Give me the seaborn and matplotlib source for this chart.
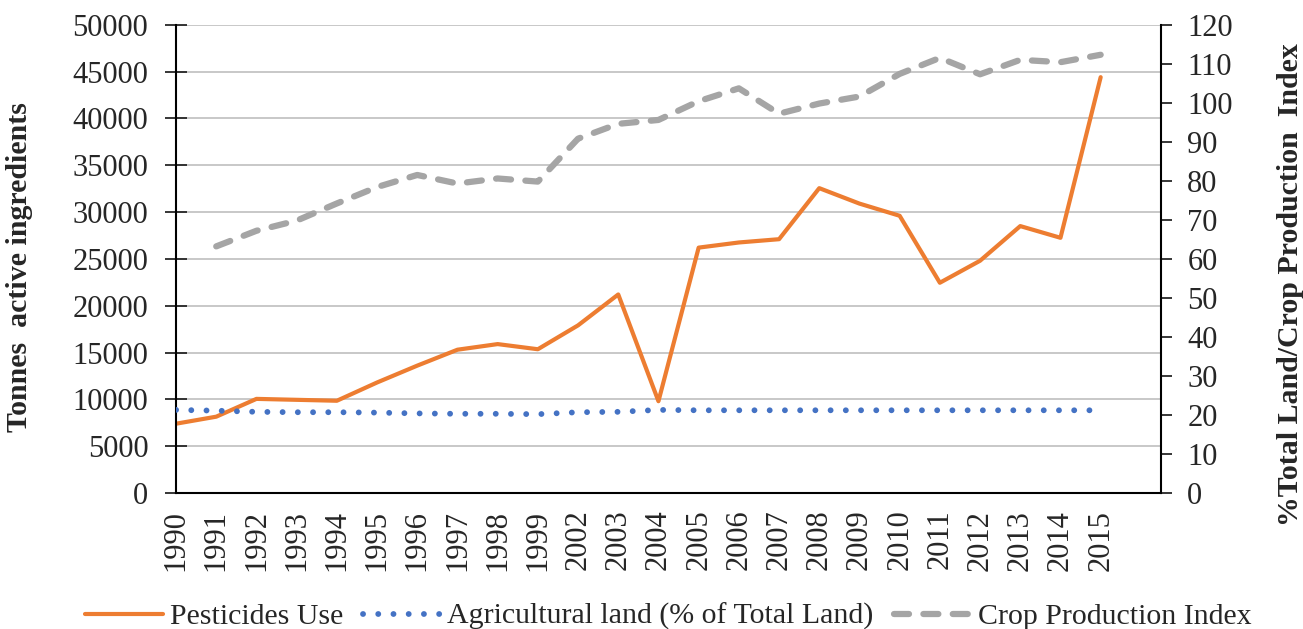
import numpy as np
import pandas as pd
import matplotlib
matplotlib.use("Agg")
import matplotlib.pyplot as plt
import seaborn as sns

years = ["1990", "1991", "1992", "1993", "1994", "1995", "1996", "1997", "1998", "1999",
         "2002", "2003", "2004", "2005", "2006", "2007", "2008", "2009", "2010", "2011",
         "2012", "2013", "2014", "2015"]
pesticides = [7400, 8150, 10050, 9950, 9850, 11800, 13600, 15300, 15900, 15350,
              17900, 21200, 9800, 26200, 26750, 27100, 32550, 30900, 29600, 22450,
              24800, 28500, 27250, 44400]
agri_land = [21.3, 21.1, 20.8, 20.7, 20.7, 20.6, 20.4, 20.3, 20.3, 20.2,
             20.7, 20.8, 21.3, 21.2, 21.2, 21.2, 21.2, 21.2, 21.2, 21.2,
             21.2, 21.2, 21.2, 21.2]
crop_index = [np.nan, 63.2, 67.2, 69.8, 74.2, 78.4, 81.5, 79.3, 80.6, 79.8,
              90.8, 94.6, 95.6, 100.4, 103.7, 97.2, 99.8, 101.6, 107.4, 111.5,
              107.3, 111.0, 110.4, 112.3]

df = pd.DataFrame({"Year": years, "Pesticides": pesticides,
                   "Agri": agri_land, "Crop": crop_index})
df["pos"] = np.arange(len(df))

sns.set_style("white")
plt.rcParams["font.family"] = ["Liberation Serif", "DejaVu Serif"]

orange = "#ED7D31"
blue = "#4472C4"
gray = "#A5A5A5"

fig = plt.figure(figsize=(13.03, 6.29), dpi=100)
ax = fig.add_axes([0.1351, 0.2162, 0.7559, 0.7445])
ax2 = ax.twinx()

sns.lineplot(data=df, x="pos", y="Pesticides", ax=ax, color=orange, linewidth=3,
             label="Pesticides Use", legend=False)
sns.lineplot(data=df, x="pos", y="Agri", ax=ax2, color=blue, linewidth=4.2,
             linestyle=(0, (0.01, 2.6)), dash_capstyle="round",
             label="Agricultural land (% of Total Land)", legend=False)
sns.lineplot(data=df.dropna(), x="pos", y="Crop", ax=ax2, color=gray, linewidth=4.5,
             linestyle=(0, (2.4, 2.3)), dash_capstyle="round",
             label="Crop Production Index", legend=False)

ax.set_xlim(0, len(years) + 0.5)
ax.set_xticks(np.arange(len(years) + 1))
ax.set_xticklabels(years + [""], rotation=90, fontsize=22)
ax.set_ylim(0, 50000)
ax.set_yticks(np.arange(0, 50001, 5000))
ax.tick_params(axis="y", labelsize=22, direction="inout", length=16, width=1.3, pad=12)
ax.tick_params(axis="x", direction="inout", length=16, width=1.3, pad=4)
ax.yaxis.grid(True, color="#BFBFBF", linewidth=1.2)
ax.set_axisbelow(True)
ax.set_xlabel("")
ax.set_ylabel("Tonnes  active ingredients", fontsize=21.5, fontweight="bold")
ax.yaxis.set_label_coords(-0.145, 0.483)

ax2.set_ylim(0, 120)
ax2.set_yticks(np.arange(0, 121, 10))
ax2.tick_params(axis="y", labelsize=22, direction="out", length=8, width=1.3, pad=11)
ax2.set_ylabel("%Total Land/Crop Production  Index", fontsize=21.5, fontweight="bold")
ax2.yaxis.set_label_coords(1.118, 0.444)
ax2.set_xlabel("")

for a in (ax, ax2):
    a.spines["top"].set_visible(False)
    for s in ("left", "right", "bottom"):
        a.spines[s].set_color("black")
        a.spines[s].set_linewidth(1.5)
ax.spines["right"].set_visible(False)
ax2.spines["left"].set_visible(False)
ax2.spines["bottom"].set_visible(False)

h1, l1 = ax.get_legend_handles_labels()
h2, l2 = ax2.get_legend_handles_labels()
fig.legend(h1 + h2, l1 + l2, loc="lower center", bbox_to_anchor=(0.513, -0.045), ncol=3,
           frameon=False, fontsize=21.5, handlelength=2.6, handletextpad=0.23,
           columnspacing=0.67)

fig.savefig("out.png", dpi=100)
